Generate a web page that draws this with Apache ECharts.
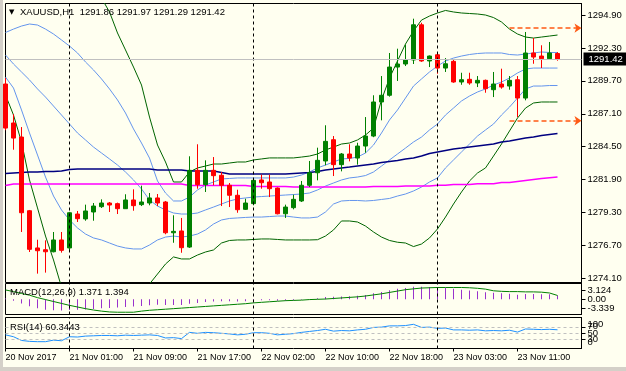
<!DOCTYPE html>
<html><head><meta charset="utf-8">
<script src="https://cdn.jsdelivr.net/npm/echarts@6/dist/echarts.min.js"></script>
<style>html,body{margin:0;padding:0;background:#FFFFF0;}#c{width:626px;height:371px;}</style>
</head><body><div id="c"></div>
<script>
// ---------- DATA ----------
const categories = [
 '20 Nov 16:00','20 Nov 17:00','20 Nov 18:00','20 Nov 19:00','20 Nov 20:00','20 Nov 21:00','20 Nov 22:00','20 Nov 23:00',
 '21 Nov 01:00','21 Nov 02:00','21 Nov 03:00','21 Nov 04:00','21 Nov 05:00','21 Nov 06:00','21 Nov 07:00','21 Nov 08:00',
 '21 Nov 09:00','21 Nov 10:00','21 Nov 11:00','21 Nov 12:00','21 Nov 13:00','21 Nov 14:00','21 Nov 15:00','21 Nov 16:00',
 '21 Nov 17:00','21 Nov 18:00','21 Nov 19:00','21 Nov 20:00','21 Nov 21:00','21 Nov 22:00','21 Nov 23:00',
 '22 Nov 01:00','22 Nov 02:00','22 Nov 03:00','22 Nov 04:00','22 Nov 05:00','22 Nov 06:00','22 Nov 07:00','22 Nov 08:00',
 '22 Nov 09:00','22 Nov 10:00','22 Nov 11:00','22 Nov 12:00','22 Nov 13:00','22 Nov 14:00','22 Nov 15:00','22 Nov 16:00',
 '22 Nov 17:00','22 Nov 18:00','22 Nov 19:00','22 Nov 20:00','22 Nov 21:00','22 Nov 22:00','22 Nov 23:00',
 '23 Nov 01:00','23 Nov 02:00','23 Nov 03:00','23 Nov 04:00','23 Nov 05:00','23 Nov 06:00','23 Nov 07:00','23 Nov 08:00',
 '23 Nov 09:00','23 Nov 10:00','23 Nov 11:00','23 Nov 12:00','23 Nov 13:00','23 Nov 14:00','23 Nov 15:00','23 Nov 16:00',
 '','',''
];
// [open, close, low, high]
const candles = [
 [1289.45,1285.97,1285.80,1289.92],[1286.37,1285.18,1284.26,1287.06],[1285.26,1279.28,1277.76,1286.05],[1279.44,1276.39,1276.18,1279.50],
 [1276.50,1276.28,1274.47,1277.15],[1276.36,1276.20,1274.55,1277.10],[1276.20,1277.13,1276.15,1277.76],[1277.13,1276.31,1276.13,1277.76],
 [1276.50,1279.28,1276.30,1279.35],[1279.18,1278.81,1278.55,1279.42],[1278.79,1279.42,1278.65,1279.92],[1279.34,1279.81,1278.65,1280.05],
 [1279.76,1280.05,1279.66,1280.34],[1280.05,1279.89,1279.34,1280.13],[1280.00,1279.60,1279.18,1280.08],[1279.60,1280.29,1279.60,1280.74],
 [1280.29,1279.84,1279.44,1281.13],[1279.92,1280.13,1279.81,1281.42],[1280.05,1280.45,1279.87,1280.84],[1280.45,1280.05,1279.81,1280.76],
 [1280.13,1277.70,1277.58,1280.21],[1277.70,1277.81,1276.91,1279.08],[1277.84,1276.52,1276.12,1278.87],[1276.57,1282.63,1276.50,1283.74],
 [1282.63,1281.50,1281.18,1284.69],[1281.50,1282.63,1280.92,1283.42],[1282.63,1282.21,1281.45,1283.68],[1282.24,1281.45,1279.81,1282.50],
 [1281.45,1280.66,1279.73,1281.63],[1280.66,1279.52,1279.28,1281.10],[1279.55,1280.05,1279.50,1280.39],[1280.00,1281.84,1279.87,1281.97],
 [1281.87,1281.65,1281.18,1282.29],[1281.71,1281.18,1280.52,1282.29],[1281.23,1279.20,1279.15,1281.28],[1279.20,1279.73,1278.87,1279.92],
 [1279.68,1280.34,1279.55,1280.71],[1280.21,1281.45,1280.13,1281.79],[1281.45,1282.44,1281.31,1283.37],[1282.44,1283.42,1281.84,1284.42],
 [1283.37,1284.92,1283.03,1286.19],[1285.05,1283.08,1282.18,1285.34],[1283.08,1283.92,1282.55,1284.00],[1283.92,1283.60,1283.34,1284.69],
 [1283.60,1284.55,1283.08,1284.81],[1284.55,1285.34,1284.02,1286.84],[1285.34,1288.03,1285.25,1288.56],[1288.03,1288.56,1286.58,1290.08],
 [1288.56,1290.79,1288.45,1291.90],[1290.79,1291.03,1289.69,1292.24],[1291.03,1291.35,1290.87,1292.55],[1291.35,1294.13,1291.03,1294.61],
 [1294.13,1291.27,1291.20,1294.29],[1291.27,1291.66,1290.79,1291.70],[1291.76,1290.71,1290.26,1291.98],[1290.71,1291.05,1290.40,1291.50],
 [1291.24,1289.61,1289.55,1291.40],[1289.61,1289.79,1289.39,1290.34],[1289.82,1289.53,1289.39,1290.34],[1289.53,1289.74,1289.21,1290.08],
 [1289.74,1289.08,1288.76,1289.80],[1289.00,1289.45,1288.42,1290.40],[1289.45,1289.21,1289.08,1290.66],[1289.29,1289.74,1289.00,1290.08],
 [1289.79,1288.34,1286.84,1290.08],[1288.34,1291.90,1288.16,1293.56],[1291.90,1291.58,1291.05,1293.08],[1291.66,1291.45,1290.71,1292.51],
 [1291.45,1291.90,1291.40,1292.77],[1291.86,1291.42,1291.29,1291.97]
];
const bbUpperOuter = [
 1295.85,1296.87,1297.82,1298.45,1298.77,1298.77,1298.61,1298.30,1297.98,1297.66,
 1297.27,1296.80,1296.24,1295.14,1293.48,1292.14,1290.79,1289.37,1286.84,1284.63,
 1283.29,1281.71,1281.71,1282.50,1282.82,1282.97,1283.13,1283.13,1283.21,1283.29,
 1283.29,1283.45,1283.53,1283.61,1283.61,1283.61,1283.61,1283.68,1283.76,1283.92,
 1284.24,1284.47,1284.71,1284.79,1285.03,1285.42,1285.97,1288.19,1289.92,1291.27,
 1292.61,1293.64,1294.50,1294.82,1295.06,1295.26,1295.14,1295.06,1295.02,1294.98,
 1294.90,1294.70,1294.35,1293.79,1293.40,1293.16,1293.08,1293.16,1293.24,1293.32];
const bbUpperInner = [
 1293.52,1293.79,1294.03,1294.19,1294.11,1293.79,1293.40,1292.93,1292.45,1291.90,
 1291.19,1290.56,1289.85,1289.06,1288.19,1287.16,1285.90,1284.79,1283.60,1281.79,
 1280.84,1280.21,1280.21,1280.52,1281.08,1281.47,1281.71,1281.95,1281.99,1282.03,
 1282.03,1282.03,1282.03,1282.03,1282.03,1282.03,1282.10,1282.26,1282.50,1282.82,
 1283.05,1283.29,1283.53,1283.57,1283.68,1284.00,1284.63,1285.58,1286.61,1287.40,
 1288.34,1289.29,1289.85,1290.40,1290.87,1291.27,1291.50,1291.66,1291.78,1291.86,
 1291.90,1291.90,1291.90,1291.78,1291.74,1291.82,1291.90,1291.98,1291.94,1291.94];
const bbMiddle = [
 1291.74,1291.03,1290.40,1289.77,1289.06,1288.42,1287.71,1287.00,1286.29,1285.58,
 1285.03,1284.47,1284.00,1283.53,1283.05,1282.50,1281.87,1281.16,1280.29,1279.81,
 1279.50,1279.26,1279.18,1279.18,1279.26,1279.50,1279.73,1279.97,1280.21,1280.37,
 1280.45,1280.52,1280.56,1280.60,1280.64,1280.68,1280.72,1280.76,1280.84,1281.08,
 1281.39,1281.63,1281.87,1282.03,1282.10,1282.22,1282.50,1282.97,1283.45,1283.92,
 1284.39,1284.87,1285.26,1285.82,1286.29,1287.00,1287.55,1288.11,1288.50,1288.82,
 1289.06,1289.37,1289.61,1289.92,1290.32,1290.64,1290.71,1290.71,1290.71,1290.71];
const bbLowerInner = [
 1290.00,1289.13,1287.40,1285.58,1283.84,1282.10,1280.60,1279.50,1278.71,1278.08,
 1277.60,1277.29,1277.13,1276.89,1276.65,1276.50,1276.42,1276.42,1276.73,1277.13,
 1277.36,1277.44,1277.36,1277.44,1277.60,1277.92,1278.39,1278.71,1278.83,1278.87,
 1278.91,1278.94,1278.94,1278.98,1279.02,1279.02,1278.94,1278.87,1278.87,1278.94,
 1279.34,1279.97,1280.21,1280.25,1280.25,1280.21,1280.25,1280.33,1280.41,1280.60,
 1280.76,1281.00,1281.31,1281.71,1282.03,1282.82,1283.45,1284.08,1284.71,1285.34,
 1285.82,1286.29,1287.00,1287.63,1288.34,1289.06,1289.29,1289.29,1289.33,1289.33];
const bbLowerOuter = [
 1288.58,1287.00,1284.87,1281.87,1279.66,1277.44,1275.55,1273.41,1272.39,1271.60,
 1270.96,1270.65,1270.49,1270.65,1270.96,1271.76,1272.55,1273.18,1273.65,1274.44,
 1275.23,1275.79,1275.63,1275.63,1275.94,1276.18,1276.34,1276.89,1277.09,1277.13,
 1277.13,1277.17,1277.21,1277.21,1277.17,1277.13,1277.13,1277.13,1277.13,1277.15,
 1277.44,1277.92,1278.63,1278.63,1278.55,1278.23,1277.76,1277.36,1277.09,1276.95,
 1276.89,1276.61,1276.81,1277.29,1278.00,1278.94,1279.97,1280.92,1281.79,1282.42,
 1282.82,1283.76,1284.71,1285.74,1286.76,1287.55,1287.95,1288.03,1288.03,1288.03];
const maNavy = [
 1282.38,1282.42,1282.46,1282.50,1282.50,1282.54,1282.54,1282.58,1282.70,1282.74,
 1282.74,1282.74,1282.74,1282.74,1282.74,1282.74,1282.74,1282.74,1282.74,1282.66,
 1282.66,1282.66,1282.66,1282.58,1282.58,1282.58,1282.58,1282.46,1282.34,1282.34,
 1282.34,1282.34,1282.34,1282.34,1282.34,1282.34,1282.38,1282.42,1282.46,1282.54,
 1282.66,1282.74,1282.82,1282.89,1282.97,1283.05,1283.13,1283.25,1283.33,1283.41,
 1283.53,1283.61,1283.76,1283.96,1284.08,1284.20,1284.32,1284.39,1284.47,1284.55,
 1284.63,1284.71,1284.87,1284.95,1285.07,1285.18,1285.26,1285.38,1285.46,1285.54];
const maMagenta = [
 1281.43,1281.55,1281.55,1281.55,1281.55,1281.55,1281.55,1281.55,1281.55,1281.55,
 1281.55,1281.55,1281.55,1281.55,1281.55,1281.55,1281.55,1281.55,1281.55,1281.55,
 1281.55,1281.55,1281.55,1281.43,1281.43,1281.43,1281.43,1281.43,1281.43,1281.43,
 1281.43,1281.35,1281.35,1281.35,1281.35,1281.35,1281.31,1281.31,1281.31,1281.31,
 1281.31,1281.31,1281.31,1281.31,1281.31,1281.31,1281.35,1281.35,1281.35,1281.35,
 1281.39,1281.39,1281.39,1281.39,1281.45,1281.45,1281.51,1281.51,1281.51,1281.57,
 1281.57,1281.57,1281.67,1281.67,1281.75,1281.83,1281.91,1281.99,1282.05,1282.10];
const macdMain = [
 0.3,-0.5,-1.5,-2.5,-3.3,-3.8,-4.0,-4.1,-3.9,-3.8,
 -3.7,-3.5,-3.3,-3.2,-3.0,-2.8,-2.6,-2.4,-2.2,-2.0,
 -2.1,-2.1,-2.1,-1.6,-1.3,-1.0,-0.8,-0.7,-0.7,-0.8,
 -0.7,-0.4,-0.3,-0.3,-0.5,-0.5,-0.4,-0.2,0.1,0.4,
 0.8,0.9,1.0,1.1,1.3,1.6,2.2,2.7,3.3,3.8,
 4.1,4.6,4.6,4.5,4.3,4.1,3.8,3.5,3.2,2.9,
 2.6,2.4,2.2,2.0,1.7,1.9,1.9,1.8,1.8,1.371];
const macdSignal = [
 3.4,2.8,2.1,1.5,0.6,-0.1,-0.8,-1.5,-2.2,-2.8,
 -3.4,-3.9,-4.3,-4.6,-4.7,-4.7,-4.7,-4.3,-4.0,-3.8,
 -3.6,-3.4,-3.2,-3.0,-2.8,-2.6,-2.4,-2.2,-2.0,-1.8,
 -1.6,-1.3,-1.1,-0.9,-0.7,-0.5,-0.4,-0.3,-0.1,0.0,
 0.1,0.3,0.5,0.7,0.9,1.2,1.6,2.0,2.5,3.0,
 3.5,3.8,4.1,4.2,4.3,4.3,4.3,4.3,4.2,4.0,
 3.7,3.1,2.9,2.8,2.8,2.7,2.7,2.6,2.3,1.394];
const rsiValues = [
 44,38,26,23,22,22,27,25,38,37,
 40,41,42,42,41,43,42,43,44,42,
 34,35,32,52,49,52,51,49,47,44,
 46,51,51,49,44,46,48,52,55,58,
 62,56,58,57,60,62,68,69,73,73,
 74,78,68,69,65,66,60,60,59,60,
 57,58,57,59,53,63,62,61,62,60.3443];
const priceTicks = [1294.90,1292.30,1289.70,1287.10,1284.50,1281.90,1279.30,1276.70,1274.10];
const macdOuterTicks = [3.124,-3.339];
const macdZeroTick = [0];
const rsiOuterTicks = [70,30];
const rsiMidTick = [50];
const rsiEnds = [100,0];
const rsiLevels = [70,50,30];
const timeTickIdx = [0,8,16,24,32,40,48,56,64];
const timeTickText = ['20 Nov 2017','21 Nov 01:00','21 Nov 09:00','21 Nov 17:00','22 Nov 02:00','22 Nov 10:00','22 Nov 18:00','23 Nov 03:00','23 Nov 11:00'];
const daySeparators = [8,31,54];
const lastPrice = 1291.42;
const header = ['XAUUSD,H1','1291.86','1291.97','1291.29','1291.42'];
const macdHeader = ['MACD(12,26,9)','1.371','1.394'];
const rsiHeader = ['RSI(14)','60.3443'];
const arrowLevels = [1293.87,1286.55];
const arrowStart = 63, arrowEnd = 72;

// ---------- CHART ----------
const FONT = "'Liberation Sans',Arial,sans-serif";
const FS = 9.5;
const chart = echarts.init(document.getElementById('c'), null, {renderer:'canvas', width:626, height:371});
const L = 5.5, R = 44.5;
const sepLine = {color:'#000', type:[3,3], width:1};
function sepMark(){
  return {silent:true, symbol:['none','none'], animation:false, label:{show:false},
    lineStyle:sepLine, data: daySeparators.map(i=>({xAxis:i}))};
}
function xAx(gi, showLabels){
  return {type:'category', gridIndex:gi, data:categories, boundaryGap:false,
    axisLine:{show:false}, splitLine:{show:false},
    axisTick:{show:showLabels, length:3, interval:(i)=>timeTickIdx.includes(i), lineStyle:{color:'#000'}},
    axisLabel:{show:showLabels, interval:(i)=>timeTickIdx.includes(i), showMinLabel:true, showMaxLabel:true, hideOverlap:false,
      formatter:(v,i)=>{const k=timeTickIdx.indexOf(i); return k>=0?timeTickText[k]:'';},
      align:'left', margin:5, color:'#000', fontSize:9, fontFamily:FONT}};
}
function yAx(gi, min, max, ticks, fmt, extra){
  return Object.assign({type:'value', gridIndex:gi, position:'right', min:min, max:max, scale:true,
    axisLine:{show:true, lineStyle:{color:'#000'}}, splitLine:{show:false},
    axisTick:{show:true, length:4, customValues:ticks, lineStyle:{color:'#000'}},
    axisLabel:{customValues:ticks, formatter:fmt, hideOverlap:false, showMinLabel:true, showMaxLabel:true,
      color:'#000', fontSize:FS, fontFamily:FONT, margin:6}}, extra||{});
}
const lineS = (data, color, extra) => Object.assign({type:'line', xAxisIndex:0, yAxisIndex:0, data:data, showSymbol:false,
  symbol:'none', lineStyle:{color:color, width:1}, silent:true, animation:false, z:2}, extra||{});
const noLine = {axisLine:{show:false}};

const option = {
  animation:false,
  backgroundColor:'#FFFFF0',
  textStyle:{fontFamily:FONT},
  grid:[
    {left:L, right:R, top:3.5, height:279, show:true, borderColor:'#000', borderWidth:1, backgroundColor:'rgba(0,0,0,0)'},
    {left:L, right:R, top:283.5, height:31, show:true, borderColor:'#000', borderWidth:1, backgroundColor:'rgba(0,0,0,0)'},
    {left:L, right:R, top:317.5, height:31, show:true, borderColor:'#000', borderWidth:1, backgroundColor:'rgba(0,0,0,0)'}
  ],
  xAxis:[xAx(0,false), xAx(1,false), xAx(2,true)],
  yAxis:[
    yAx(0, 1273.77, 1295.81, priceTicks, v=>v.toFixed(2)),
    yAx(1, -5.53, 5.75, macdOuterTicks, v=>v.toFixed(3)),
    yAx(1, -5.53, 5.75, macdZeroTick, v=>'0.00', noLine),
    yAx(2, 0, 100, rsiOuterTicks, v=>String(v)),
    yAx(2, 0, 100, rsiMidTick, v=>String(v), noLine),
    // MT4 draws the "100" / "0" end labels inside the pane edges
    yAx(2, -36.1, 136.1, rsiEnds, v=>String(v), {axisLine:{show:false}, axisTick:{show:false}})
  ],
  graphic:[
    {type:'rect', shape:{x:0,y:0,width:3,height:371}, style:{fill:'#D4D0C8'}, silent:true},
    {type:'rect', shape:{x:0,y:367,width:626,height:4}, style:{fill:'#D4D0C8'}, silent:true},
    {type:'text', x:9, y:9, style:{text:'\u25BC', fontSize:7, fill:'#000', fontFamily:'DejaVu Sans'}, z:10},
    {type:'text', x:20, y:7, style:{text:header[0]+'  '+header.slice(1).join(' '), fontSize:FS, fill:'#000', fontFamily:FONT}, z:10},
    {type:'text', x:10, y:287, style:{text:macdHeader.join(' '), fontSize:FS, fill:'#000', fontFamily:FONT}, z:10},
    {type:'text', x:10, y:322, style:{text:rsiHeader.join(' '), fontSize:FS, fill:'#000', fontFamily:FONT}, z:10}
  ],
  series:[
    {type:'line', xAxisIndex:0, yAxisIndex:0, data:categories.map(()=>null), showSymbol:false, silent:true, z:1,
      markLine:{silent:true, symbol:['none','none'], animation:false, label:{show:false}, lineStyle:sepLine,
        data: daySeparators.map(i=>({xAxis:i})).concat([
          {yAxis:lastPrice, lineStyle:{color:'#C0C0C0', type:'solid', width:1},
            label:{show:true, position:'end', formatter:lastPrice.toFixed(2), backgroundColor:'#000', color:'#fff',
              padding:[2,5,1,5], distance:2, fontSize:FS, fontFamily:FONT}}
        ])}},
    lineS(bbUpperOuter,'#006400'),
    lineS(bbLowerOuter,'#006400'),
    lineS(bbUpperInner,'#6495ED'),
    lineS(bbMiddle,'#6495ED'),
    lineS(bbLowerInner,'#6495ED'),
    lineS(maNavy,'#000080',{lineStyle:{color:'#000080', width:1.5}}),
    lineS(maMagenta,'#FF00FF',{lineStyle:{color:'#FF00FF', width:1.5}}),
    {type:'candlestick', xAxisIndex:0, yAxisIndex:0, data:candles, barWidth:5, silent:true, z:3,
      itemStyle:{color:'#008000', color0:'#FF0000', borderColor:'#008000', borderColor0:'#FF0000', borderWidth:1},
      markLine:{silent:true, animation:false, symbol:['none','arrow'], symbolSize:[7,7], label:{show:false},
        lineStyle:{color:'#FF5A14', type:[5,3], width:1.5},
        data: arrowLevels.map(v=>[{coord:[arrowStart,v]},{coord:[arrowEnd,v]}])}},
    {type:'bar', xAxisIndex:1, yAxisIndex:1, data:macdMain, barWidth:1, silent:true,
      itemStyle:{color:'#9932CC'}, markLine:sepMark()},
    {type:'line', xAxisIndex:1, yAxisIndex:1, data:macdSignal, showSymbol:false, symbol:'none', silent:true,
      lineStyle:{color:'#008000', width:1}},
    {type:'line', xAxisIndex:2, yAxisIndex:3, data:rsiValues, showSymbol:false, symbol:'none', silent:true,
      lineStyle:{color:'#1E90FF', width:1},
      markLine:{silent:true, symbol:['none','none'], animation:false, label:{show:false},
        data: rsiLevels.map(v=>({yAxis:v, lineStyle:{color:'#C0C0C0', type:[3,3], width:1}}))
          .concat(daySeparators.map(i=>({xAxis:i, lineStyle:sepLine})))}}
  ]
};
chart.setOption(option);
</script>
</body></html>
